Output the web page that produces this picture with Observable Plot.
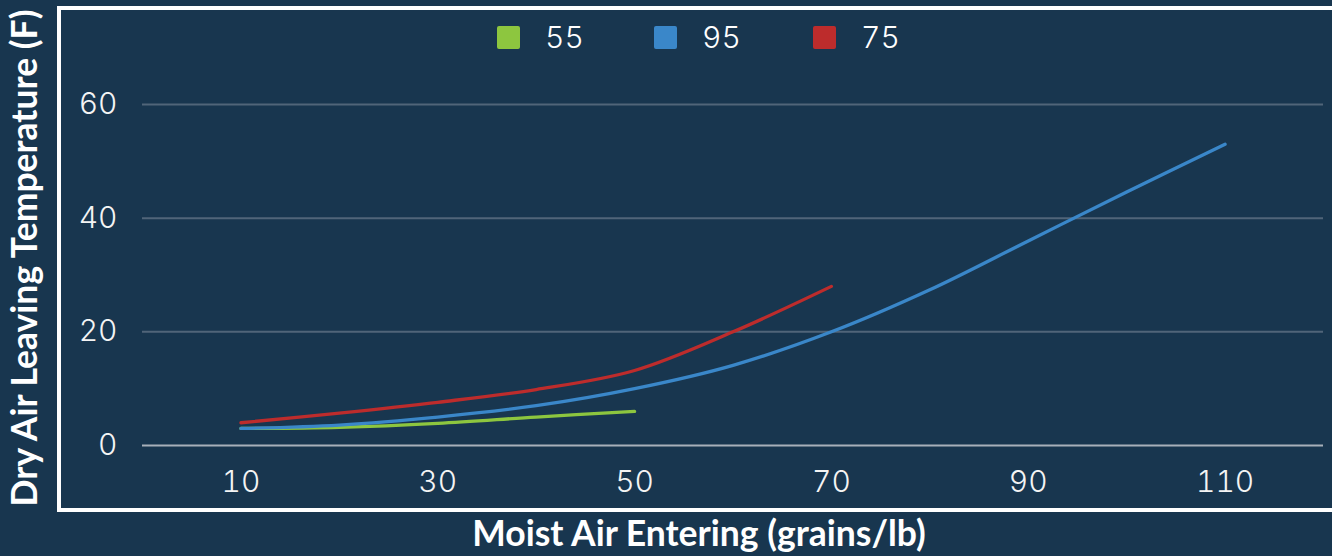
<!DOCTYPE html>
<html>
<head>
<meta charset="utf-8">
<script src="https://cdn.jsdelivr.net/npm/d3@7"></script>
<script src="https://cdn.jsdelivr.net/npm/@observablehq/plot@0.6"></script>
<style>
  html, body { margin: 0; padding: 0; }
  body { width: 1332px; height: 556px; overflow: hidden; background: #18364f; position: relative; font-family: Lato, sans-serif; color: #fff; }
  #frame { position: absolute; left: 57px; top: 6px; width: 1400px; height: 498px; border: 4px solid #fff; box-sizing: content-box; }
  #chart { position: absolute; left: 0; top: 0; }
  .ytitle { position: absolute; left: 24px; top: 258px; transform: translate(-50%, -50%) rotate(-90deg); white-space: nowrap; font-weight: 700; font-size: 35.5px; line-height: 1; }
  .xtitle { position: absolute; left: 699px; top: 515px; transform: translateX(-50%); white-space: nowrap; font-weight: 700; font-size: 35.5px; line-height: 1; }
  .legend { position: absolute; top: 0; left: 0; }
  .sw { position: absolute; top: 26px; width: 23px; height: 23px; border-radius: 2px; }
  .lb { position: absolute; top: 22px; font-family: Inter, sans-serif; font-weight: 300; font-size: 30px; line-height: 30px; font-variant-numeric: tabular-nums; }
</style>
</head>
<body>
<div id="frame"></div>
<div id="chart"></div>
<div class="ytitle">Dry Air Leaving Temperature (F)</div>
<div class="xtitle">Moist Air Entering (grains/lb)</div>
<div class="legend" id="legend"></div>
<script>
// Data
const xValues = [10, 20, 30, 40, 50, 60, 70, 80, 90, 100, 110];
const series55 = [3, 3.2, 3.9, 5.0, 6];
const series95 = [3, 3.6, 5, 7, 10, 14.1, 20, 27.4, 36, 44.6, 53];
const series75 = [4, 5.7, 7.6, 9.85, 13.2, 20, 28];
const seriesNames = ["55", "95", "75"];
const seriesColors = ["#8dc63f", "#3a87c9", "#bd2c2c"];
const xTicks = [10, 30, 50, 70, 90, 110];
const yTicks = [0, 20, 40, 60];

const allSeries = [series55, series95, series75];
const rows = [];
allSeries.forEach((vals, i) => {
  vals.forEach((v, j) => rows.push({series: seriesNames[i], x: xValues[j], y: v}));
});

const chart = Plot.plot({
  width: 1332,
  height: 556,
  marginLeft: 142,
  marginRight: 9,
  marginTop: 104,
  marginBottom: 111,
  style: {background: "transparent", color: "#ffffff", fontFamily: "Inter, sans-serif", fontWeight: 300, fontSize: "30px", overflow: "visible", fontVariantNumeric: "tabular-nums"},
  x: {domain: [0, 120], label: null},
  y: {domain: [0, 60], label: null},
  color: {domain: seriesNames, range: seriesColors},
  marks: [
    Plot.ruleY(yTicks.filter(d => d !== 0), {stroke: "#506579", strokeWidth: 2}),
    Plot.ruleY([0], {stroke: "#a7b0ba", strokeWidth: 2}),
    ...seriesNames.map((name) => Plot.line(rows.filter(r => r.series === name), {x: "x", y: "y", stroke: "series", strokeWidth: 3.3, curve: "catmull-rom", strokeLinecap: "round"})),
    Plot.axisX({ticks: xTicks, tickSize: 0, tickPadding: 25, label: null, fill: "#f4f4f4"}),
    Plot.axisY({ticks: yTicks, tickSize: 0, tickPadding: 25, label: null, fill: "#f4f4f4"})
  ]
});
document.getElementById("chart").appendChild(chart);

// Legend
const legend = document.getElementById("legend");
const swatchX = [497, 654, 813];
const labelX = [545, 702, 861];
seriesNames.forEach((name, i) => {
  const sw = document.createElement("div");
  sw.className = "sw";
  sw.style.left = swatchX[i] + "px";
  sw.style.background = seriesColors[i];
  legend.appendChild(sw);
  const lb = document.createElement("div");
  lb.className = "lb";
  lb.style.left = labelX[i] + "px";
  lb.textContent = name;
  legend.appendChild(lb);
});
</script>
</body>
</html>
